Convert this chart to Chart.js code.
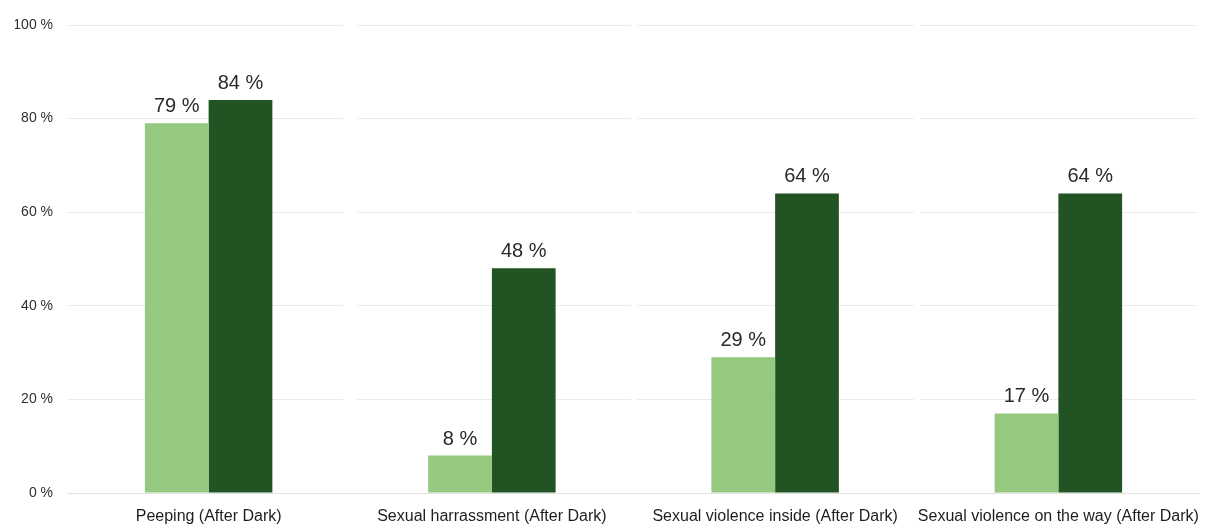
<!DOCTYPE html>
<html>
<head>
<meta charset="utf-8">
<script src="https://cdn.jsdelivr.net/npm/chart.js@4.4.1/dist/chart.umd.min.js"></script>
<style>
  html, body { margin: 0; padding: 0; background: #ffffff; }
  #wrap { width: 1205px; height: 527px; }
</style>
</head>
<body>
<div id="wrap"><canvas id="c" width="1205" height="527"></canvas></div>
<script>
const categories = [
  "Peeping (After Dark)",
  "Sexual harrassment (After Dark)",
  "Sexual violence inside (After Dark)",
  "Sexual violence on the way (After Dark)"
];
const seriesLight = [79, 8, 29, 17];
const seriesDark = [84, 48, 64, 64];
const yTicks = [0, 20, 40, 60, 80, 100];

const FONT = "'Liberation Sans', Arial, sans-serif";

const valueLabels = {
  id: 'valueLabels',
  afterDatasetsDraw(chart) {
    const ctx = chart.ctx;
    ctx.save();
    ctx.font = "20px " + FONT;
    ctx.fillStyle = "#2a2a2a";
    ctx.textAlign = "center";
    ctx.textBaseline = "alphabetic";
    chart.data.datasets.forEach((ds, di) => {
      const meta = chart.getDatasetMeta(di);
      meta.data.forEach((bar, i) => {
        ctx.fillText(ds.data[i] + " %", bar.x, bar.y - 11);
      });
    });
    ctx.restore();
  }
};

new Chart(document.getElementById('c'), {
  type: 'bar',
  data: {
    labels: categories,
    datasets: [
      { label: 'A', data: seriesLight, backgroundColor: '#94c97f', borderWidth: 0 },
      { label: 'B', data: seriesDark, backgroundColor: '#215422', borderWidth: 0 }
    ]
  },
  options: {
    responsive: false,
    animation: false,
    events: [],
    layout: { padding: { left: 15, right: 5, top: 25, bottom: 0 } },
    datasets: { bar: { categoryPercentage: 0.45, barPercentage: 1.0 } },
    plugins: { legend: { display: false }, tooltip: { enabled: false } },
    scales: {
      x: {
        afterFit(s) { s.height = 34; s.paddingLeft = 0; s.paddingRight = 0; },
        grid: {
          display: true,
          color: (ctx) => (ctx.index === 0 || ctx.index === categories.length) ? 'rgba(255,255,255,0)' : '#ffffff',
          lineWidth: (ctx) => ctx.index === 1 ? 14 : 6,
          drawTicks: false, z: -0.5
        },
        border: { display: false },
        ticks: { color: '#1e1e1e', font: { family: FONT, size: 16 }, padding: 14, maxRotation: 0, autoSkip: false }
      },
      y: {
        min: 0, max: 100,
        afterFit(s) { s.width = 52; s.paddingTop = 0; s.paddingBottom = 0; },
        afterBuildTicks(scale) { scale.ticks = yTicks.map(v => ({ value: v })); },
        grid: { color: (ctx) => ctx.tick && ctx.tick.value === 0 ? '#e2e2e2' : '#ebebeb', lineWidth: 1, drawTicks: false },
        border: { display: false },
        ticks: {
          color: '#2e2e2e', font: { family: FONT, size: 14 }, padding: 14,
          callback: (v) => v + ' %'
        }
      }
    }
  },
  plugins: [valueLabels]
});
</script>
</body>
</html>
